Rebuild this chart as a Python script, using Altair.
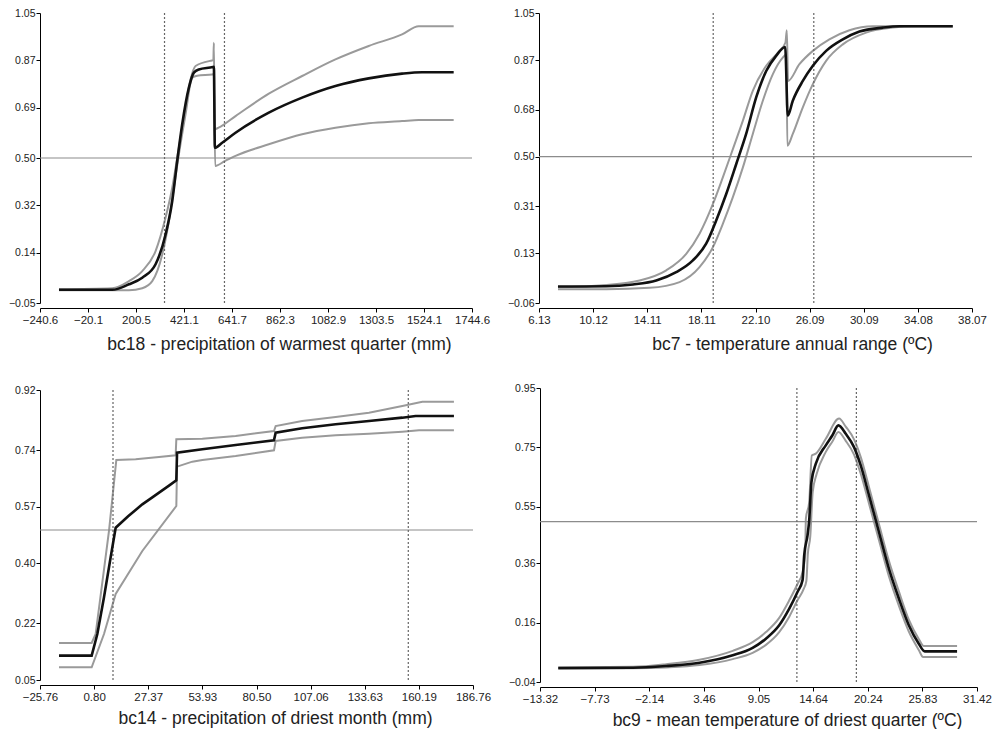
import altair as alt
import pandas as pd

# ---------------- Panel 1: bc18 ----------------
p1_xticks = [-240.6, -20.1, 200.5, 421.1, 641.7, 862.3, 1082.9, 1303.5, 1524.1, 1744.6]
p1_yticks = [-0.05, 0.14, 0.32, 0.50, 0.69, 0.87, 1.05]
p1_vlines = [331.6, 607.1]
p1_mean_x = [-153.4, 91.5, 168.1, 229.3, 290.5, 336.4, 367.1, 390.0, 412.9, 443.6, 466.5, 489.5, 553.8, 558.4, 563.0, 596.6, 657.9, 810.9, 964.0, 1117.0, 1270.1, 1423.2, 1515.0, 1660.4]
p1_mean_y = [0.0, 0.0, 0.021, 0.046, 0.097, 0.21, 0.337, 0.489, 0.628, 0.767, 0.824, 0.836, 0.845, 0.846, 0.539, 0.558, 0.596, 0.672, 0.729, 0.773, 0.802, 0.82, 0.825, 0.825]
p1_up_x = [-153.4, 91.5, 168.1, 229.3, 290.5, 336.4, 367.1, 390.0, 420.5, 451.2, 474.2, 550.6, 556.0, 558.4, 562.0, 580.0, 657.9, 810.9, 964.0, 1117.0, 1270.1, 1423.2, 1499.7, 1660.4]
p1_up_y = [0.002, 0.006, 0.033, 0.071, 0.147, 0.274, 0.387, 0.501, 0.653, 0.798, 0.849, 0.870, 0.871, 0.937, 0.609, 0.615, 0.659, 0.744, 0.811, 0.874, 0.925, 0.969, 1.0, 1.0]
p1_lo_x = [-153.4, 168.1, 229.3, 275.2, 321.1, 351.7, 374.7, 397.6, 428.2, 458.8, 481.8, 550.6, 558.4, 564.3, 610.0, 657.9, 810.9, 964.0, 1117.0, 1270.1, 1423.2, 1499.7, 1660.4]
p1_lo_y = [-0.002, -0.002, 0.006, 0.033, 0.134, 0.261, 0.387, 0.514, 0.666, 0.805, 0.812, 0.817, 0.818, 0.47, 0.489, 0.508, 0.552, 0.59, 0.615, 0.632, 0.64, 0.644, 0.644]

# ---------------- Panel 2: bc7 ----------------
p2_xticks = [6.13, 10.12, 14.11, 18.11, 22.10, 26.09, 30.09, 34.08, 38.07]
p2_yticks = [-0.06, 0.13, 0.31, 0.50, 0.68, 0.87, 1.05]
p2_vlines = [18.98, 26.40]
p2_mean_x = [7.53, 11.09, 13.06, 14.78, 16.25, 17.48, 18.46, 19.2, 19.94, 20.68, 21.41, 22.15, 22.89, 23.62, 24.29, 24.48, 24.85, 25.59, 26.33, 27.31, 28.54, 29.77, 31.49, 32.72, 36.65]
p2_mean_y = [0.003, 0.004, 0.011, 0.026, 0.058, 0.103, 0.167, 0.256, 0.357, 0.472, 0.587, 0.727, 0.828, 0.886, 0.92, 0.657, 0.714, 0.79, 0.848, 0.905, 0.949, 0.979, 0.994, 0.999, 0.999]
p2_up_x = [7.53, 10.6, 13.55, 15.52, 16.99, 17.97, 18.96, 19.69, 20.43, 21.17, 21.9, 22.89, 23.87, 24.31, 24.41, 24.5, 25.34, 26.33, 27.55, 29.03, 30.75, 36.65]
p2_up_y = [0.0, 0.007, 0.026, 0.065, 0.128, 0.205, 0.319, 0.421, 0.529, 0.638, 0.752, 0.848, 0.905, 0.937, 0.984, 0.79, 0.854, 0.905, 0.949, 0.984, 0.999, 0.999]
p2_lo_x = [7.53, 11.09, 14.29, 16.5, 17.97, 18.96, 19.69, 20.43, 21.17, 21.9, 22.64, 23.38, 24.11, 24.38, 24.45, 24.85, 25.59, 26.33, 27.31, 28.54, 30.26, 32.22, 33.94, 36.65]
p2_lo_y = [-0.007, -0.007, -0.002, 0.02, 0.077, 0.154, 0.243, 0.345, 0.459, 0.587, 0.714, 0.816, 0.879, 0.892, 0.542, 0.587, 0.689, 0.778, 0.867, 0.93, 0.975, 0.994, 0.999, 0.999]

# ---------------- Panel 3: bc14 ----------------
p3_xticks = [-25.76, 0.80, 27.37, 53.93, 80.50, 107.06, 133.63, 160.19, 186.76]
p3_yticks = [0.05, 0.22, 0.40, 0.57, 0.74, 0.92]
p3_vlines = [10.07, 155.0]
p3_mean_x = [-16.43, -0.40, 2.38, 5.65, 8.92, 11.38, 17.5, 24.46, 29.37, 37.55, 41.15, 41.5, 53.91, 70.27, 89.08, 89.9, 102.9, 119.35, 135.7, 152.07, 158.6, 177.4]
p3_mean_y = [0.123, 0.123, 0.188, 0.298, 0.418, 0.507, 0.541, 0.577, 0.598, 0.633, 0.649, 0.732, 0.742, 0.755, 0.769, 0.792, 0.805, 0.817, 0.827, 0.837, 0.842, 0.842]
p3_up_x = [-16.43, -0.40, 1.56, 8.1, 11.7, 21.19, 32.65, 40.82, 41.15, 53.91, 70.27, 89.08, 89.9, 102.9, 119.35, 135.7, 152.07, 161.9, 177.4]
p3_up_y = [0.161, 0.161, 0.188, 0.497, 0.710, 0.712, 0.719, 0.724, 0.772, 0.774, 0.782, 0.797, 0.812, 0.827, 0.839, 0.852, 0.872, 0.885, 0.885]
p3_lo_x = [-16.43, -0.40, 5.65, 11.38, 24.46, 41.15, 41.5, 49.0, 53.91, 70.27, 89.08, 89.9, 102.9, 119.35, 135.7, 152.07, 160.26, 177.4]
p3_lo_y = [0.088, 0.088, 0.188, 0.308, 0.437, 0.572, 0.690, 0.705, 0.710, 0.722, 0.739, 0.767, 0.777, 0.784, 0.789, 0.795, 0.799, 0.799]

# ---------------- Panel 4: bc9 ----------------
p4_xticks = [-13.32, -7.73, -2.14, 3.46, 9.05, 14.64, 20.24, 25.83, 31.42]
p4_yticks = [-0.04, 0.16, 0.36, 0.55, 0.75, 0.95]
p4_vlines = [12.98, 19.07]
p4_mean_x = [-11.45, -3.79, -0.39, 3.01, 6.41, 8.45, 9.81, 11.17, 12.2, 13.04, 13.56, 13.73, 14.07, 14.24, 14.47, 14.92, 15.94, 16.62, 17.23, 17.98, 18.83, 19.51, 20.36, 21.38, 22.4, 23.42, 24.44, 25.46, 26.07, 29.38]
p4_mean_y = [0.007, 0.008, 0.014, 0.025, 0.05, 0.075, 0.106, 0.151, 0.207, 0.263, 0.303, 0.387, 0.454, 0.504, 0.633, 0.695, 0.757, 0.791, 0.824, 0.796, 0.751, 0.69, 0.589, 0.465, 0.342, 0.241, 0.151, 0.089, 0.063, 0.063]
p4_up_x = [-11.45, -3.79, -0.39, 3.01, 6.41, 8.45, 9.81, 11.17, 12.2, 13.04, 13.56, 13.83, 13.9, 14.24, 14.51, 14.92, 15.94, 17.3, 17.98, 18.83, 19.51, 20.36, 21.38, 22.4, 23.42, 24.44, 25.46, 25.97, 29.38]
p4_up_y = [0.009, 0.011, 0.02, 0.035, 0.065, 0.094, 0.128, 0.176, 0.235, 0.29, 0.33, 0.387, 0.51, 0.566, 0.723, 0.729, 0.779, 0.847, 0.82, 0.777, 0.718, 0.617, 0.492, 0.368, 0.265, 0.17, 0.105, 0.081, 0.081]
p4_lo_x = [-11.45, -3.79, -0.39, 3.01, 6.41, 8.45, 9.81, 11.17, 12.2, 13.04, 13.7, 13.95, 14.1, 14.35, 14.6, 15.0, 15.94, 16.62, 17.23, 17.98, 18.83, 19.51, 20.36, 21.38, 22.4, 23.42, 24.44, 25.46, 25.9, 29.38]
p4_lo_y = [0.005, 0.006, 0.009, 0.017, 0.037, 0.058, 0.085, 0.128, 0.18, 0.235, 0.275, 0.3, 0.39, 0.45, 0.6, 0.66, 0.735, 0.77, 0.802, 0.772, 0.726, 0.662, 0.561, 0.438, 0.316, 0.217, 0.13, 0.068, 0.044, 0.044]

FONT = "Liberation Sans"


def build_df(mx, my, ux, uy, lx, ly):
    rows = []
    for name, xs, ys in (("upper", ux, uy), ("lower", lx, ly), ("mean", mx, my)):
        for i, (a, b) in enumerate(zip(xs, ys)):
            rows.append({"x": a, "y": b, "series": name, "i": i})
    return pd.DataFrame(rows)


def panel(df, vlines, xticks, yticks, xfmt, title, title_x, w, h, title_pad, interp):
    xs = alt.Scale(domain=[xticks[0], xticks[-1]], nice=False, zero=False)
    ys = alt.Scale(domain=[yticks[0], yticks[-1]], nice=False, zero=False)
    xaxis = alt.Axis(values=xticks, format=xfmt, title=title, titleX=title_x,
                     titlePadding=title_pad, offset=5, grid=False, tickSize=4,
                     labelFlush=False, labelOverlap=False, labelPadding=2,
                     labelFontSize=11.5, titleFontSize=17.5)
    yaxis = alt.Axis(values=yticks, format=".2f", title=None, grid=False,
                     tickSize=4, labelFlush=False, labelOverlap=False,
                     labelPadding=1, labelFontSize=10.5)
    X = alt.X("x:Q", scale=xs, axis=xaxis)
    Y = alt.Y("y:Q", scale=ys, axis=yaxis)
    base = alt.Chart(df)
    gray = base.transform_filter("datum.series != 'mean'").mark_line(
        color="#9a9a9a", strokeWidth=2, interpolate=interp).encode(
        x=X, y=Y, detail="series:N", order="i:Q")
    black = base.transform_filter("datum.series == 'mean'").mark_line(
        color="#111111", strokeWidth=2.6, interpolate=interp).encode(
        x=X, y=Y, order="i:Q")
    hrule = alt.Chart(pd.DataFrame({"y": [0.5]})).mark_rule(
        color="#8c8c8c", strokeWidth=1.2).encode(y=Y)
    vrule = alt.Chart(pd.DataFrame({"x": vlines})).mark_rule(
        color="#666666", strokeDash=[2, 2], strokeWidth=1.2).encode(x=X)
    return alt.layer(gray, hrule, vrule, black).properties(width=w, height=h)


c1 = panel(build_df(p1_mean_x, p1_mean_y, p1_up_x, p1_up_y, p1_lo_x, p1_lo_y),
           p1_vlines, p1_xticks, p1_yticks, ".1f",
           "bc18 - precipitation of warmest quarter (mm)", 239, 432, 290, 10, "monotone")
c2 = panel(build_df(p2_mean_x, p2_mean_y, p2_up_x, p2_up_y, p2_lo_x, p2_lo_y),
           p2_vlines, p2_xticks, p2_yticks, ".2f",
           "bc7 - temperature annual range (ºC)", 253, 433, 290, 10, "monotone")
c3 = panel(build_df(p3_mean_x, p3_mean_y, p3_up_x, p3_up_y, p3_lo_x, p3_lo_y),
           p3_vlines, p3_xticks, p3_yticks, ".2f",
           "bc14 - precipitation of driest month (mm)", 235, 433, 290, 7, "linear")
c4 = panel(build_df(p4_mean_x, p4_mean_y, p4_up_x, p4_up_y, p4_lo_x, p4_lo_y),
           p4_vlines, p4_xticks, p4_yticks, ".2f",
           "bc9 - mean temperature of driest quarter (ºC)", 247, 437, 294, 7, "monotone")

row1 = alt.hconcat(c1, c2, spacing=17)
row2 = alt.hconcat(c3, c4, spacing=17, center=True)
chart = alt.vconcat(row1, row2, spacing=30).properties(
    padding={"left": 0, "top": 0, "right": 0, "bottom": 0},
    background="white",
).configure_view(stroke=None).configure_axis(
    domainColor="#000000", tickColor="#000000", labelColor="#222222",
    titleColor="#222222", labelFont=FONT, titleFont=FONT,
    titleFontWeight="normal", domainWidth=1, tickWidth=1,
)

chart.save("out.html", embed_options={"renderer": "svg", "actions": False})
